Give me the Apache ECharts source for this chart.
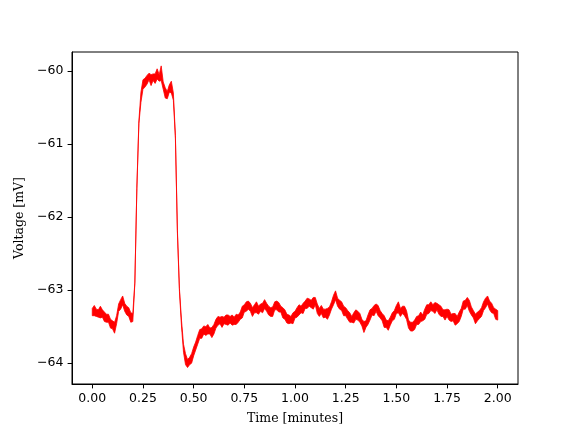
<!DOCTYPE html>
<html>
<head>
<meta charset="utf-8">
<script src="https://cdn.jsdelivr.net/npm/echarts@6/dist/echarts.min.js"></script>
<style>html,body{margin:0;padding:0;background:#fff}#c{width:576px;height:432px}</style>
</head>
<body>
<div id="c"></div>
<script>
// Sample times (minutes): start and step
const timeStart = 0.0;
const timeStep = 0.01;
// Upper edge of the noisy voltage trace (mV)
const voltageTop = [
-63.25,-63.21,-63.26,-63.27,-63.22,-63.27,-63.30,-63.33,-63.33,-63.40,
-63.42,-63.44,-63.35,-63.19,-63.13,-63.08,-63.18,-63.22,-63.24,-63.31,
-63.32,-62.89,-61.59,-60.68,-60.29,-60.12,-60.10,-60.06,-60.03,-60.05,
-60.04,-60.04,-59.97,-60.05,-59.93,-60.15,-60.23,-60.28,-60.19,-60.14,
-60.30,-60.88,-62.18,-62.98,-63.41,-63.74,-63.87,-63.95,-63.92,-63.87,
-63.78,-63.71,-63.62,-63.54,-63.53,-63.49,-63.50,-63.47,-63.52,-63.51,
-63.47,-63.40,-63.36,-63.37,-63.36,-63.37,-63.34,-63.34,-63.36,-63.34,
-63.37,-63.33,-63.34,-63.30,-63.22,-63.20,-63.16,-63.15,-63.18,-63.24,
-63.20,-63.16,-63.22,-63.19,-63.18,-63.13,-63.18,-63.22,-63.24,-63.23,
-63.16,-63.15,-63.17,-63.22,-63.24,-63.27,-63.33,-63.34,-63.36,-63.31,
-63.29,-63.24,-63.20,-63.22,-63.18,-63.15,-63.11,-63.12,-63.14,-63.10,
-63.10,-63.19,-63.25,-63.21,-63.26,-63.26,-63.25,-63.23,-63.16,-63.07,
-63.01,-63.11,-63.14,-63.16,-63.22,-63.24,-63.28,-63.31,-63.36,-63.31,
-63.27,-63.29,-63.32,-63.40,-63.43,-63.42,-63.34,-63.27,-63.25,-63.21,
-63.19,-63.21,-63.28,-63.32,-63.35,-63.41,-63.42,-63.37,-63.31,-63.28,
-63.21,-63.16,-63.25,-63.22,-63.22,-63.28,-63.41,-63.44,-63.44,-63.41,
-63.36,-63.35,-63.30,-63.34,-63.26,-63.20,-63.20,-63.16,-63.20,-63.17,
-63.18,-63.20,-63.22,-63.27,-63.27,-63.26,-63.27,-63.33,-63.32,-63.32,
-63.36,-63.30,-63.25,-63.15,-63.14,-63.10,-63.14,-63.23,-63.28,-63.33,
-63.30,-63.28,-63.24,-63.16,-63.11,-63.08,-63.15,-63.18,-63.24,-63.26,
-63.28
];
// Lower edge of the noisy voltage trace (mV)
const voltageBottom = [
-63.35,-63.35,-63.36,-63.37,-63.38,-63.37,-63.43,-63.44,-63.44,-63.52,
-63.53,-63.59,-63.46,-63.29,-63.26,-63.20,-63.29,-63.34,-63.36,-63.44,
-63.43,-62.91,-61.61,-60.72,-60.43,-60.25,-60.22,-60.18,-60.12,-60.20,
-60.13,-60.17,-60.11,-60.14,-60.13,-60.25,-60.37,-60.38,-60.29,-60.30,
-60.40,-60.92,-62.22,-63.02,-63.49,-63.85,-64.02,-64.06,-64.02,-64.00,
-63.90,-63.82,-63.74,-63.66,-63.66,-63.60,-63.62,-63.60,-63.60,-63.65,
-63.60,-63.52,-63.48,-63.46,-63.51,-63.46,-63.47,-63.48,-63.45,-63.48,
-63.47,-63.47,-63.44,-63.40,-63.38,-63.30,-63.29,-63.26,-63.29,-63.36,
-63.31,-63.31,-63.33,-63.29,-63.31,-63.25,-63.29,-63.34,-63.36,-63.36,
-63.27,-63.27,-63.30,-63.30,-63.38,-63.40,-63.45,-63.46,-63.45,-63.46,
-63.38,-63.37,-63.34,-63.31,-63.32,-63.25,-63.25,-63.22,-63.24,-63.26,
-63.20,-63.32,-63.36,-63.32,-63.38,-63.37,-63.40,-63.34,-63.26,-63.20,
-63.13,-63.22,-63.26,-63.28,-63.35,-63.35,-63.40,-63.44,-63.44,-63.45,
-63.40,-63.41,-63.44,-63.49,-63.58,-63.51,-63.47,-63.41,-63.34,-63.35,
-63.29,-63.35,-63.38,-63.42,-63.51,-63.51,-63.55,-63.48,-63.42,-63.40,
-63.32,-63.31,-63.36,-63.32,-63.35,-63.40,-63.52,-63.56,-63.56,-63.54,
-63.47,-63.47,-63.43,-63.42,-63.40,-63.33,-63.32,-63.28,-63.29,-63.32,
-63.27,-63.33,-63.36,-63.36,-63.41,-63.36,-63.41,-63.43,-63.42,-63.48,
-63.46,-63.43,-63.36,-63.26,-63.26,-63.21,-63.29,-63.34,-63.38,-63.46,
-63.42,-63.39,-63.36,-63.28,-63.24,-63.19,-63.27,-63.31,-63.32,-63.40,
-63.41
];
const xTicks = [0, 0.25, 0.5, 0.75, 1.0, 1.25, 1.5, 1.75, 2.0];
const yTicks = [-64, -63, -62, -61, -60];

const times = voltageTop.map((_, i) => timeStart + i * timeStep);

const chart = echarts.init(document.getElementById('c'), null, {renderer: 'canvas'});
const sans = 'DejaVu Sans';
const serif = 'DejaVu Serif';
const FS = 12.5;
chart.setOption({
  animation: false,
  backgroundColor: '#fff',
  grid: {left: 72, right: 58, top: 52, bottom: 48, show: true, borderColor: '#000', borderWidth: 1, backgroundColor: 'transparent'},
  xAxis: {
    type: 'value', min: -0.1, max: 2.1,
    name: 'Time [minutes]', nameLocation: 'middle', nameGap: 28.5,
    nameTextStyle: {fontFamily: serif, fontSize: FS, color: '#000'},
    axisLine: {show: true, onZero: false, lineStyle: {color: '#000', width: 1}},
    axisTick: {show: true, inside: false, length: 4.4, customValues: xTicks, lineStyle: {color: '#000', width: 1}},
    axisLabel: {customValues: xTicks, margin: 8, fontFamily: sans, fontSize: FS, color: '#000',
      formatter: v => v.toFixed(2)},
    splitLine: {show: false}
  },
  yAxis: {
    type: 'value', min: -64.285, max: -59.74,
    name: 'Voltage [mV]', nameLocation: 'middle', nameGap: 40, nameRotate: 90,
    nameTextStyle: {fontFamily: serif, fontSize: FS, color: '#000'},
    axisLine: {show: true, onZero: false, lineStyle: {color: '#000', width: 1}},
    axisTick: {show: true, inside: false, length: 4.4, customValues: yTicks, lineStyle: {color: '#000', width: 1}},
    axisLabel: {customValues: yTicks, margin: 8.5, fontFamily: sans, fontSize: FS, color: '#000',
      formatter: v => (v < 0 ? '\u2212' : '') + Math.abs(Math.round(v))},
    splitLine: {show: false}
  },
  series: [{
    type: 'custom',
    clip: true,
    data: [[times[0], voltageTop[0]]],
    renderItem: function (params, api) {
      const pts = [];
      for (let i = 0; i < times.length; i++) pts.push(api.coord([times[i], voltageTop[i]]));
      for (let i = times.length - 1; i >= 0; i--) pts.push(api.coord([times[i], voltageBottom[i]]));
      return {
        type: 'polygon',
        shape: {points: pts},
        style: {fill: '#ff0000', stroke: '#ff0000', lineWidth: 0.8, lineJoin: 'round'}
      };
    }
  }]
});
</script>
</body>
</html>
